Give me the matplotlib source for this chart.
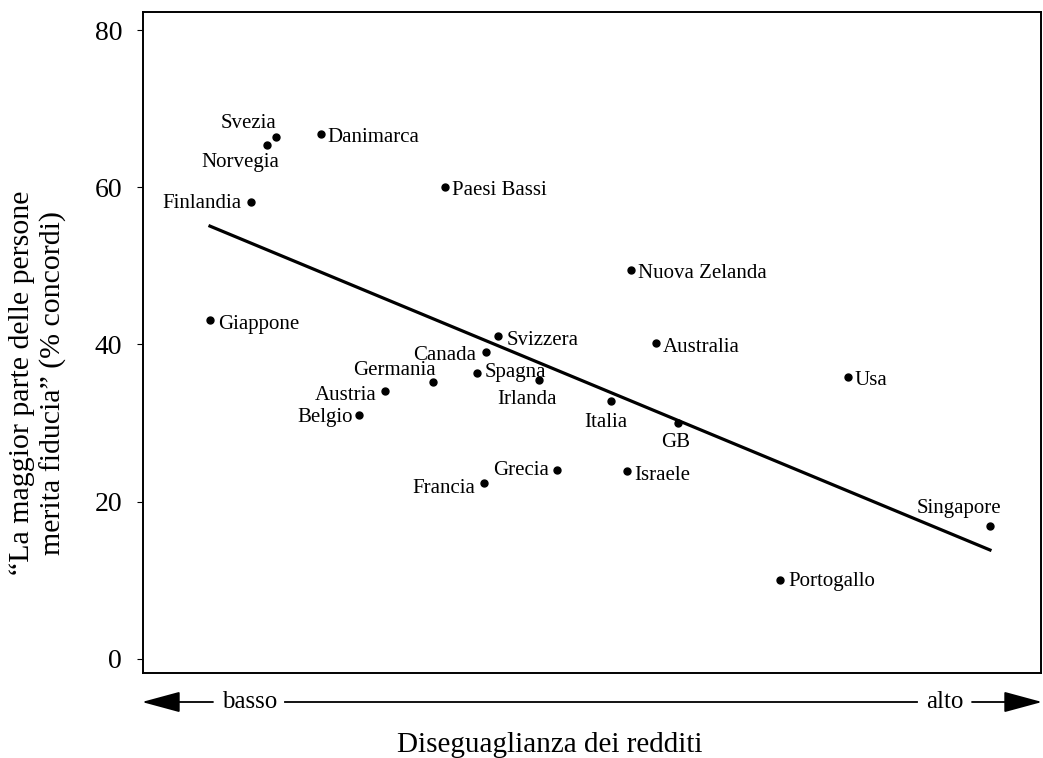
import numpy as np
import matplotlib
matplotlib.use("Agg")
import matplotlib.pyplot as plt
from matplotlib.patches import FancyArrowPatch
from matplotlib.lines import Line2D

countries = ["Svezia", "Norvegia", "Danimarca", "Finlandia", "Paesi Bassi",
             "Nuova Zelanda", "Giappone", "Svizzera", "Canada", "Australia",
             "Spagna", "Germania", "Irlanda", "Austria", "Usa", "Belgio",
             "Italia", "GB", "Grecia", "Israele", "Francia", "Singapore",
             "Portogallo"]
inequality = [3.93, 3.86, 4.30, 3.73, 5.30,
              6.80, 3.40, 5.73, 5.63, 7.00,
              5.56, 5.20, 6.06, 4.81, 8.55, 4.60,
              6.64, 7.18, 6.20, 6.77, 5.61, 9.70,
              8.00]
trust = [66.4, 65.4, 66.8, 58.1, 60.0,
         49.5, 43.1, 41.1, 39.0, 40.2,
         36.4, 35.2, 35.5, 34.1, 35.9, 31.0,
         32.8, 30.0, 24.0, 23.9, 22.4, 16.9,
         10.0]
yticks = [0, 20, 40, 60, 80]

# label placement: (dx px, baseline dy px, ha)
label_pos = {
    "Svezia": (1, 9, "right"),
    "Norvegia": (12, -22, "right"),
    "Danimarca": (6, -8, "left"),
    "Finlandia": (-9, -6, "right"),
    "Paesi Bassi": (7, -8, "left"),
    "Nuova Zelanda": (7, -8, "left"),
    "Giappone": (8, -9, "left"),
    "Svizzera": (8, -9, "left"),
    "Canada": (-10, -8, "right"),
    "Australia": (7, -9, "left"),
    "Spagna": (7, -4, "left"),
    "Germania": (3, 7, "right"),
    "Irlanda": (-12, -24, "center"),
    "Austria": (-8, -9, "right"),
    "Usa": (7, -8, "left"),
    "Belgio": (-6, -7, "right"),
    "Italia": (-5, -26, "center"),
    "GB": (-2, -24, "center"),
    "Grecia": (-8, -5, "right"),
    "Israele": (7, -9, "left"),
    "Francia": (-8, -10, "right"),
    "Singapore": (-31, 13, "center"),
    "Portogallo": (9, -6, "left"),
}

serif = ["Liberation Serif", "DejaVu Serif"]
plt.rcParams["font.family"] = serif

W, H = 1043, 758
fig = plt.figure(figsize=(W / 100, H / 100), dpi=100)
ax = fig.add_axes([143 / W, 1 - 673 / H, (1041 - 143) / W, 661 / H])

x = np.array(inequality)
y = np.array(trust)
ax.plot(x, y, "o", color="black", markersize=5, zorder=3)

slope, intercept = np.polyfit(x, y, 1)
xl = np.array([x.min(), x.max()])
ax.plot(xl, intercept + slope * xl, color="black", lw=2.3, zorder=2)

for c, xi, yi in zip(countries, x, y):
    dx, dy, ha = label_pos[c]
    ax.annotate(c, (xi, yi), xytext=(dx * 0.72, dy * 0.72),
                textcoords="offset points", ha=ha, va="baseline", fontsize=15)

ax.set_xlim(2.859, 10.112)
ax.set_ylim(-1.8, 82.3)
ax.set_xticks([])
ax.set_yticks(yticks)
ax.set_yticklabels([str(v) for v in yticks], fontsize=20)
ax.tick_params(axis="y", length=4, width=0.8, pad=11)
for s in ax.spines.values():
    s.set_linewidth(1.4)

fig.text(38 / W, 1 - 383 / H,
         "\u201cLa maggior parte delle persone\nmerita fiducia\u201d (% concordi)",
         rotation=90, ha="center", va="center", fontsize=21.5,
         linespacing=1.2, multialignment="center")

# bottom arrow annotation
yb = 1 - 702 / H
ybase = 1 - 708 / H
fig.text(249.5 / W, ybase, "basso", ha="center", va="baseline", fontsize=18)
fig.text(945 / W, ybase, "alto", ha="center", va="baseline", fontsize=18)
style = "-|>,head_length=24,head_width=6.5"
fig.add_artist(FancyArrowPatch((213 / W, yb), (142 / W, yb), transform=fig.transFigure,
                               arrowstyle=style, mutation_scale=1, color="black",
                               lw=1.3, shrinkA=0, shrinkB=0))
fig.add_artist(Line2D([285 / W, 917 / W], [yb, yb], transform=fig.transFigure,
                      color="black", lw=1.3))
fig.add_artist(FancyArrowPatch((972 / W, yb), (1042 / W, yb), transform=fig.transFigure,
                               arrowstyle=style, mutation_scale=1, color="black",
                               lw=1.3, shrinkA=0, shrinkB=0))

fig.text(550 / W, 1 - 752 / H, "Diseguaglianza dei redditi", ha="center",
         va="baseline", fontsize=21)

fig.savefig("out.png", dpi=100)
